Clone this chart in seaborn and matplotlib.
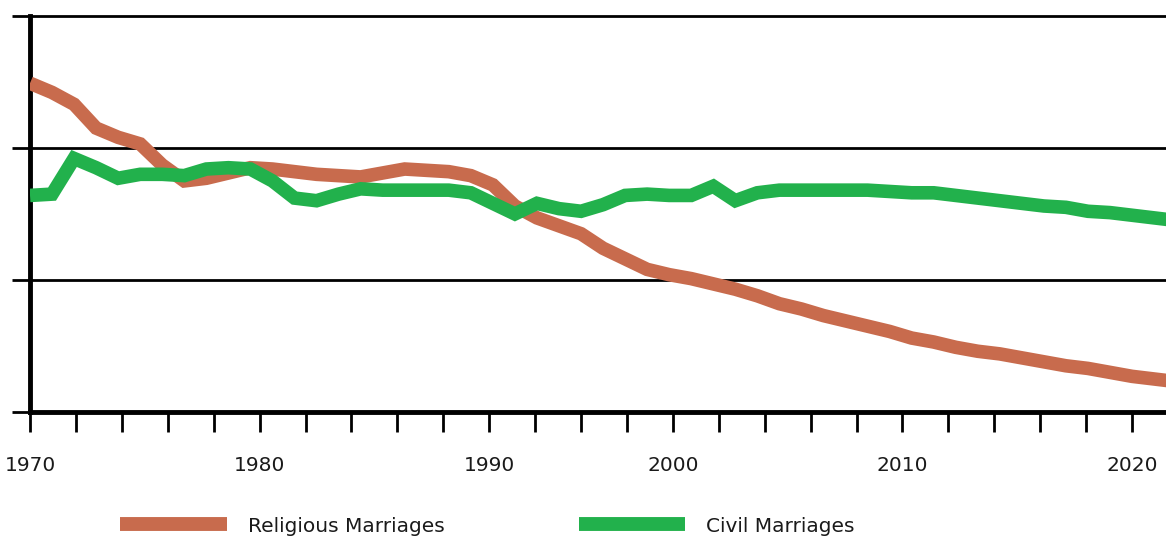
import numpy as np
import pandas as pd
import matplotlib.pyplot as plt
import seaborn as sns

# marriages per year, thousands
years = list(range(1970, 2023))
religious = [249, 242, 233, 215, 208, 203, 187, 175, 177, 181,
             185, 184, 182, 180, 179, 178, 181, 184, 183, 182,
             179, 172, 156, 147, 141, 135, 124, 116, 108, 104,
             101, 97, 93, 88, 82, 78, 73, 69, 65, 61,
             56, 53, 49, 46, 44, 41, 38, 35, 33, 30,
             27, 25, 23]
civil = [164, 165, 192, 185, 177, 180, 180, 179, 184, 185,
         184, 175, 162, 160, 165, 169, 168, 168, 168, 168,
         166, 158, 150, 158, 154, 152, 157, 164, 165, 164,
         164, 171, 160, 166, 168, 168, 168, 168, 168, 167,
         166, 166, 164, 162, 160, 158, 156, 155, 152, 151,
         149, 147, 145]

series_names = ["Religious Marriages", "Civil Marriages"]
series_colors = ["#C86B4D", "#22B14C"]

label_text = ["1970", "1980", "1990", "2000", "2010", "2020"]
label_idx = [0, 5, 10, 14, 19, 24]

df = pd.DataFrame({"year": years * 2,
                   "marriages": religious + civil,
                   "type": [series_names[0]] * len(years) + [series_names[1]] * len(years)})

sns.set_style("white")
plt.rcParams["font.family"] = ["DejaVu Sans"]

fig = plt.figure(figsize=(11.66, 5.36), dpi=100)
ax = fig.add_axes([30 / 1166, (536 - 412) / 536, 1 - 30 / 1166, 412 / 536])

sns.lineplot(data=df, x="year", y="marriages", hue="type", palette=series_colors,
             linewidth=9.8, ax=ax, legend=False, zorder=3)
for ln in ax.lines:
    ln.set_solid_capstyle("butt")
    ln.set_solid_joinstyle("miter")

ax.set_xlim(1970, 2021.54)
ax.set_ylim(0, 312)

# gridlines
for v in [100, 200, 300]:
    ax.axhline(v, color="black", lw=2, zorder=1)

ax.spines["top"].set_visible(False)
ax.spines["right"].set_visible(False)
ax.spines["left"].set_bounds(0, 300)
ax.spines["left"].set_linewidth(3.5)
ax.spines["bottom"].set_linewidth(3.5)
ax.spines["left"].set_color("black")
ax.spines["bottom"].set_color("black")

ax.set_yticks([0, 100, 200, 300])
ax.set_yticklabels([])
ax.tick_params(axis="y", left=True, direction="out", length=13, width=2, color="black")

tick_pos = np.linspace(1970, 2020, 25)
labels = [""] * len(tick_pos)
for i, t in zip(label_idx, label_text):
    labels[i] = t
ax.set_xticks(tick_pos)
ax.set_xticklabels(labels)
ax.tick_params(axis="x", bottom=True, direction="out", length=14.5, width=2,
               color="black", pad=17, labelsize=14.5, labelcolor="#1a1a1a")

ax.set_xlabel("")
ax.set_ylabel("")

handles = [plt.Line2D([], [], color=c, lw=10, solid_capstyle="butt") for c in series_colors]
fig.legend(handles, series_names, loc="center left", bbox_to_anchor=(120 / 1166, 10 / 536),
           ncol=2, frameon=False, fontsize=14.5, handlelength=5.3, handletextpad=1.05,
           columnspacing=6.65, borderpad=0, borderaxespad=0, labelcolor="#1a1a1a")

fig.savefig("out.png", dpi=100)
